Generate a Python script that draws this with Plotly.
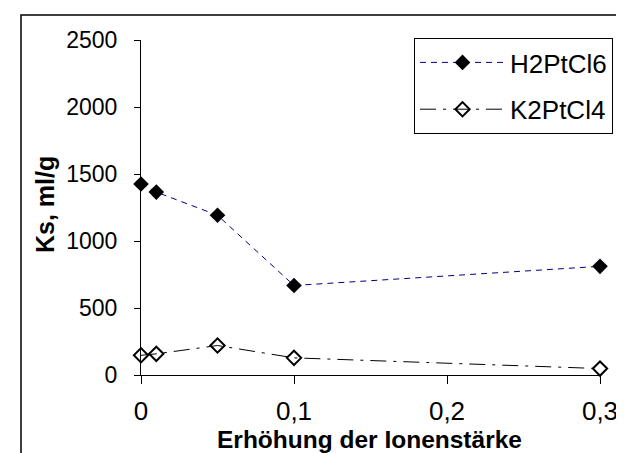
import plotly.graph_objects as go

# Ionenstärke
x_vals = [0, 0.01, 0.05, 0.1, 0.3]
h2ptcl6 = [1425, 1365, 1192, 668, 811]
k2ptcl4 = [147, 158, 220, 128, 48]

x_ticks = [0, 0.1, 0.2, 0.3]
x_ticktext = ["0", "0,1", "0,2", "0,3"]
y_ticks = [0, 500, 1000, 1500, 2000, 2500]

W, H = 624, 453
L, R, T, B = 133, 32, 32, 86
pw, ph = W - L - R, H - T - B

font = "Liberation Sans, Arial, sans-serif"


def px_x(p):
    return (p - L) / pw


def px_y(p):
    return (H - B - p) / ph


fig = go.Figure()
fig.add_trace(go.Scatter(
    x=x_vals, y=h2ptcl6, name="H2PtCl6", mode="lines+markers", legendgroup="a",
    line=dict(color="#000080", width=1, dash="6px,5px"),
    marker=dict(symbol="diamond", size=12, color="black"),
    cliponaxis=False,
))
fig.add_trace(go.Scatter(
    x=x_vals, y=k2ptcl4, name="K2PtCl4", mode="lines+markers", legendgroup="b",
    line=dict(color="black", width=1, dash="16px,7px,3px,7px"),
    marker=dict(symbol="diamond-open", size=11, color="black", line=dict(width=2)),
    cliponaxis=False,
))

fig.update_layout(
    width=W, height=H,
    margin=dict(l=L, r=R, t=T, b=B, autoexpand=False),
    paper_bgcolor="white", plot_bgcolor="white",
    font=dict(family=font, size=22, color="black"),
    showlegend=True,
    legend=dict(
        x=px_x(406), y=px_y(30), xanchor="left", yanchor="top",
        bordercolor="black", borderwidth=1, bgcolor="white",
        font=dict(size=26), itemwidth=85, tracegroupgap=10,
    ),
    xaxis=dict(
        range=[0, 0.3], tickvals=x_ticks, ticktext=x_ticktext,
        showline=True, linecolor="black", linewidth=1,
        ticks="outside", ticklen=8, tickcolor="black",
        showgrid=False, zeroline=False,
        tickfont=dict(size=26), ticklabelstandoff=5,
    ),
    yaxis=dict(
        range=[0, 2500], tickvals=y_ticks,
        showline=True, linecolor="black", linewidth=1,
        ticks="outside", ticklen=6, tickcolor="black",
        showgrid=False, zeroline=False,
        tickfont=dict(size=23), ticklabelstandoff=12,
    ),
)

# axis titles
fig.add_annotation(
    text="<b>Erhöhung der Ionenstärke</b>", xref="paper", yref="paper",
    x=px_x(361), y=px_y(432), xanchor="center", yanchor="middle",
    showarrow=False, font=dict(size=24.5),
)
fig.add_annotation(
    text="<b>Ks, ml/g</b>", xref="paper", yref="paper",
    x=px_x(37), y=px_y(197), xanchor="center", yanchor="middle",
    textangle=-90, showarrow=False, font=dict(size=25),
)

# outer frame
fig.add_shape(
    type="rect", xref="paper", yref="paper",
    x0=px_x(13), x1=px_x(616),
    y0=px_y(H + 5), y1=px_y(7),
    line=dict(color="black", width=1.5), fillcolor="rgba(0,0,0,0)",
)

fig.write_html("out.html")
